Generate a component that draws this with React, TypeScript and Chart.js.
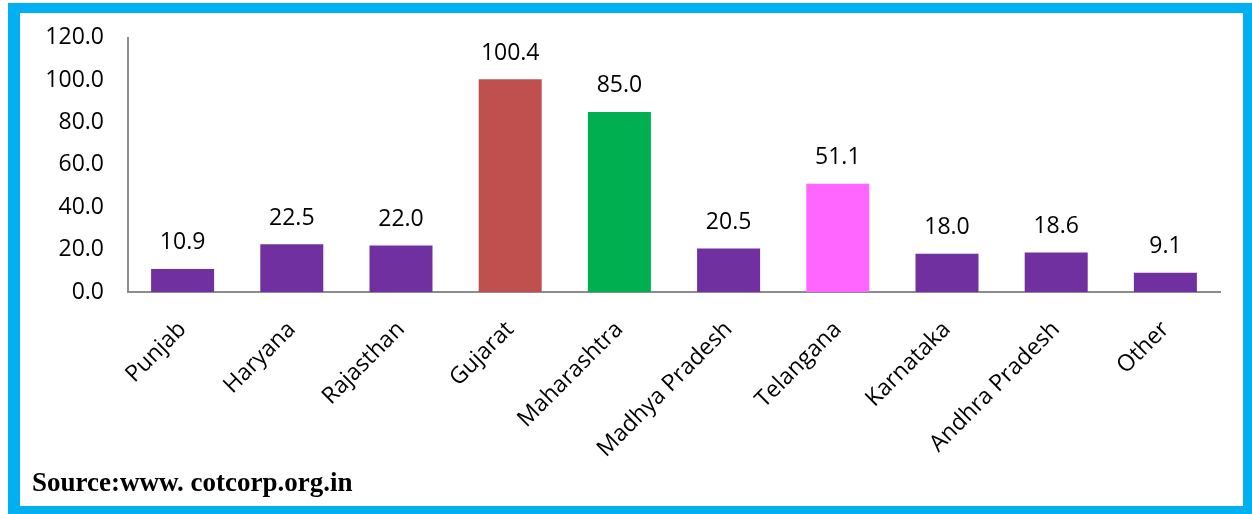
import React, { useEffect, useRef } from "react";
import { Chart, registerables } from "chart.js";

Chart.register(...registerables);

const categories = [
  "Punjab",
  "Haryana",
  "Rajasthan",
  "Gujarat",
  "Maharashtra",
  "Madhya Pradesh",
  "Telangana",
  "Karnataka",
  "Andhra Pradesh",
  "Other",
];
const values = [10.9, 22.5, 22.0, 100.4, 85.0, 20.5, 51.1, 18.0, 18.6, 9.1];
const barColors = [
  "#7030A0",
  "#7030A0",
  "#7030A0",
  "#C0504D",
  "#00B050",
  "#7030A0",
  "#FF66FF",
  "#7030A0",
  "#7030A0",
  "#7030A0",
];
const yTicks = [0, 20, 40, 60, 80, 100, 120];
const sourceText = "Source:www. cotcorp.org.in";

const FONT = "'Open Sans', 'Liberation Sans', sans-serif";
const W = 1252;
const H = 514;

const valueLabels = {
  id: "valueLabels",
  afterDatasetsDraw(chart: any) {
    const ctx = chart.ctx;
    const meta = chart.getDatasetMeta(0);
    ctx.save();
    ctx.font = `23px ${FONT}`;
    ctx.fillStyle = "#000000";
    ctx.textAlign = "center";
    ctx.textBaseline = "middle";
    meta.data.forEach((bar: any, i: number) => {
      ctx.fillText(values[i].toFixed(1), bar.x, bar.y - 26);
    });
    ctx.restore();
  },
};

export default function App() {
  const ref = useRef<HTMLCanvasElement | null>(null);

  useEffect(() => {
    if (!ref.current) return;
    const chart = new Chart(ref.current, {
      type: "bar",
      data: {
        labels: categories,
        datasets: [
          {
            data: values,
            backgroundColor: barColors,
            borderWidth: 0,
            barPercentage: 0.577,
            categoryPercentage: 1,
          },
        ],
      },
      options: {
        responsive: false,
        animation: false,
        layout: { padding: { left: 0, top: 37, right: 32, bottom: 0 } },
        plugins: {
          legend: { display: false },
          tooltip: { enabled: false },
          title: { display: false },
        },
        scales: {
          x: {
            grid: { display: false, drawTicks: false },
            border: { display: true, color: "#8c8c8c", width: 2 },
            ticks: {
              minRotation: 45,
              maxRotation: 45,
              autoSkip: false,
              padding: 24,
              color: "#000000",
              font: { family: FONT, size: 23 },
            },
            afterFit(scale: any) {
              scale.height = H - 292;
            },
          },
          y: {
            min: 0,
            max: 120,
            grid: { display: false, drawTicks: false },
            border: { display: true, color: "#8c8c8c", width: 2 },
            afterBuildTicks(scale: any) {
              scale.ticks = yTicks.map((v) => ({ value: v }));
            },
            ticks: {
              padding: 24,
              color: "#000000",
              font: { family: FONT, size: 23 },
              callback: (v: any) => Number(v).toFixed(1),
            },
            afterFit(scale: any) {
              scale.width = 128;
            },
          },
        },
      },
      plugins: [valueLabels],
    });
    return () => chart.destroy();
  }, []);

  return (
    <div
      style={{
        position: "fixed",
        left: 0,
        top: 0,
        width: W,
        height: H,
        background: "#ffffff",
        overflow: "hidden",
      }}
    >
      <div
        style={{
          position: "absolute",
          left: 8,
          top: 3,
          width: 1244,
          height: 511,
          boxSizing: "border-box",
          borderStyle: "solid",
          borderColor: "#00B0F0",
          borderTopWidth: 10,
          borderRightWidth: 9,
          borderBottomWidth: 8,
          borderLeftWidth: 12,
        }}
      />
      <canvas
        ref={ref}
        width={W}
        height={H}
        style={{ position: "absolute", left: 0, top: 0, width: W, height: H }}
      />
      <div
        style={{
          position: "absolute",
          left: 32,
          top: 467,
          lineHeight: "30px",
          fontFamily: "'Liberation Serif', 'Times New Roman', serif",
          fontWeight: "bold",
          fontSize: 27,
          color: "#000000",
          whiteSpace: "nowrap",
        }}
      >
        {sourceText}
      </div>
    </div>
  );
}
